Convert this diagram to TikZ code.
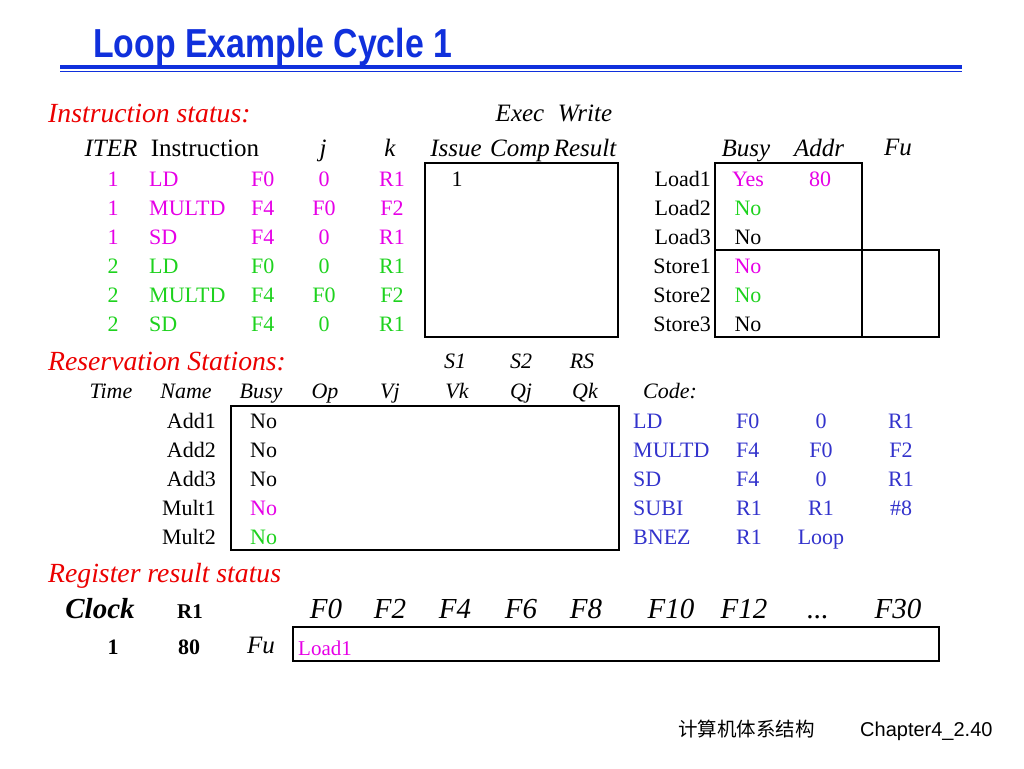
\documentclass[tikz,border=0pt]{standalone}
\usepackage{fontspec}
\setmainfont{Liberation Serif}
\setsansfont{Liberation Sans}
\newfontfamily\titlefont[FakeStretch=0.835]{Liberation Sans}
\newfontfamily\cjkfont{Noto Sans CJK SC}
\definecolor{titleblue}{RGB}{16,48,220}
\definecolor{secred}{RGB}{235,0,0}
\definecolor{mag}{RGB}{230,0,230}
\definecolor{grn}{RGB}{30,210,30}
\definecolor{codeblue}{RGB}{51,51,204}

\begin{document}
\begin{tikzpicture}[
  x=1pt, y=-1pt,
  sect/.style={anchor=base west, inner sep=0pt, text=secred, font=\fontsize{27.7}{30}\selectfont\itshape},
  hdr/.style={anchor=base, inner sep=0pt, font=\fontsize{25}{28}\selectfont\itshape},
  subhdr/.style={anchor=base, inner sep=0pt, font=\fontsize{22}{26}\selectfont\itshape},
  cell/.style={anchor=base, inner sep=0pt, font=\fontsize{22}{26}\selectfont},
  reg/.style={anchor=base, inner sep=0pt, font=\fontsize{29}{32}\selectfont\itshape},
  frame/.style={draw, line width=1.5pt}
]
\useasboundingbox (0,0) rectangle (1024,768);

% Title with double rule
\node[anchor=base west, inner sep=0pt, text=titleblue, font=\titlefont\bfseries\fontsize{40.5}{44}\selectfont] (title) at (93,57) {Loop Example Cycle 1};
\draw[titleblue, line width=3.5pt] (60,67) -- (962,67);
\draw[titleblue, line width=1.2pt] (60,71.5) -- (962,71.5);

% Instruction status
\node[sect] (instr-status) at (48,122) {Instruction status:};
\node[hdr] (exec) at (520,121) {Exec};
\node[hdr] (write) at (585,121) {Write};
\node[hdr] (h-iter) at (111,156) {ITER};
\node[hdr, font=\fontsize{25}{28}\selectfont] (h-instr) at (205,156) {Instruction};
\node[hdr] (h-j) at (323,156) {j};
\node[hdr] (h-k) at (390,156) {k};
\node[hdr] (h-issue) at (456,156) {Issue};
\node[hdr] (h-comp) at (520,156) {Comp};
\node[hdr] (h-result) at (585,156) {Result};
\node[hdr] (h-busy) at (746,156) {Busy};
\node[hdr] (h-addr) at (819,156) {Addr};
\node[hdr] (h-fu) at (898,155) {Fu};

\foreach \r/\num/\op/\dst/\vj/\vk/\clr in {1/1/LD/F0/0/R1/mag, 2/1/MULTD/F4/F0/F2/mag, 3/1/SD/F4/0/R1/mag,
    4/2/LD/F0/0/R1/grn, 5/2/MULTD/F4/F0/F2/grn, 6/2/SD/F4/0/R1/grn}{
  \node[cell, text=\clr] (iter-\r) at (113,157+29*\r) {\num};
  \node[cell, text=\clr, anchor=base west] (op-\r) at (149,157+29*\r) {\op};
  \node[cell, text=\clr, anchor=base west] (dst-\r) at (251,157+29*\r) {\dst};
  \node[cell, text=\clr] (j-\r) at (324,157+29*\r) {\vj};
  \node[cell, text=\clr] (k-\r) at (392,157+29*\r) {\vk};
}
\node[cell] (issue-1) at (457,186) {1};
\draw[frame] (425,163) rectangle (618,337);

% Load and store buffers
\foreach \r/\name/\busy/\clr in {1/Load1/Yes/mag, 2/Load2/No/grn, 3/Load3/No/black,
    4/Store1/No/mag, 5/Store2/No/grn, 6/Store3/No/black}{
  \node[cell, anchor=base east] (buf-\r) at (711,157+29*\r) {\name};
  \node[cell, text=\clr] (buf-busy-\r) at (748,157+29*\r) {\busy};
}
\node[cell, text=mag] (buf-addr-1) at (820,186) {80};
\draw[frame] (715,163) rectangle (862,337);
\draw[frame] (715,250) rectangle (939,337);

% Reservation stations
\node[sect] (res-stations) at (48,370) {Reservation Stations:};
\foreach \x/\t in {455/S1, 521/S2, 582/RS}
  \node[subhdr] (src-\t) at (\x,368) {\t};
\foreach \x/\t in {111/Time, 186/Name, 261/Busy, 325/Op, 390/Vj, 457/Vk, 521/Qj, 585/Qk}
  \node[subhdr] (rs-\t) at (\x,398) {\t};
\node[subhdr, anchor=base west] (code) at (643,398) {Code:};

\foreach \r/\name/\clr in {1/Add1/black, 2/Add2/black, 3/Add3/black, 4/Mult1/mag, 5/Mult2/grn}{
  \node[cell, anchor=base east] (rs-\r) at (216,399+29*\r) {\name};
  \node[cell, anchor=base west, text=\clr] (rs-busy-\r) at (250,399+29*\r) {No};
}
\draw[frame] (231,406) rectangle (619,550);

% Code listing
\foreach \r/\op/\a/\b in {1/LD/F0/0, 2/MULTD/F4/F0, 3/SD/F4/0, 4/SUBI/R1/R1, 5/BNEZ/R1/Loop}{
  \node[cell, anchor=base west, text=codeblue] (code-op-\r) at (633,399+29*\r) {\op};
  \node[cell, anchor=base west, text=codeblue] (code-a-\r) at (736,399+29*\r) {\a};
  \node[cell, text=codeblue] (code-b-\r) at (821,399+29*\r) {\b};
}
\foreach \r/\c in {1/R1, 2/F2, 3/R1, 4/\#8}
  \node[cell, text=codeblue] (code-c-\r) at (901,399+29*\r) {\c};

% Register result status
\node[sect] (reg-status) at (48,582) {Register result status};
\node[reg, font=\fontsize{29}{32}\selectfont\bfseries\itshape] (clock) at (100,618) {Clock};
\node[cell, font=\fontsize{21}{24}\selectfont\bfseries] (r1) at (190,618) {R1};
\foreach \x/\t in {326/F0, 390/F2, 455/F4, 521/F6, 586/F8, 671/F10, 744/F12, 898/F30}
  \node[reg] (reg-\t) at (\x,618) {\t};
\node[reg] (reg-dots) at (818,618) {...};
\node[cell, font=\fontsize{22}{24}\selectfont\bfseries] (clock-val) at (113,654) {1};
\node[cell, font=\fontsize{22}{24}\selectfont\bfseries] (r1-val) at (189,654) {80};
\node[hdr] (fu) at (261,653) {Fu};
\draw[frame] (293,627) rectangle (939,661);
\node[cell, anchor=base west, text=mag, font=\fontsize{21}{24}\selectfont] (fu-f0) at (298,655) {Load1};

% Footer
\node[anchor=base west, inner sep=0pt, font=\cjkfont\fontsize{19.5}{22}\selectfont] (course) at (678,736) {计算机体系结构};
\node[anchor=base west, inner sep=0pt, font=\sffamily\fontsize{20}{24}\selectfont] (page) at (860,736.5) {Chapter4\_2.40};

\end{tikzpicture}
\end{document}
